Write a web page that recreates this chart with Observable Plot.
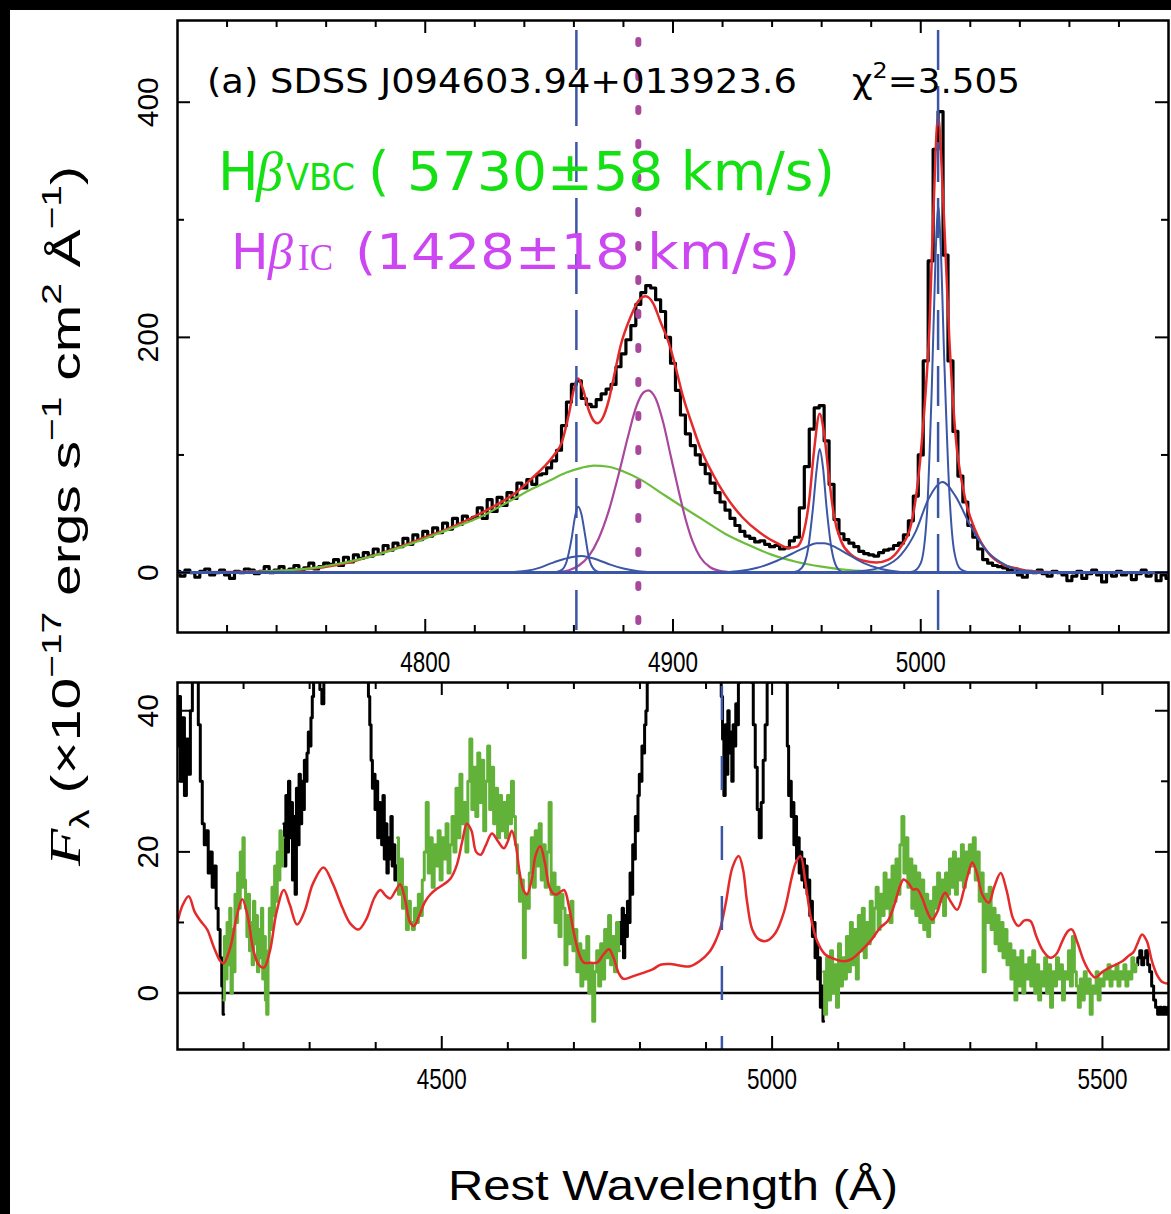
<!DOCTYPE html>
<html><head><meta charset="utf-8">
<script src="https://cdn.jsdelivr.net/npm/d3@7"></script>
<script src="https://cdn.jsdelivr.net/npm/@observablehq/plot@0.6"></script>
<style>
html,body{margin:0;padding:0;background:#000;}
body{width:1171px;height:1214px;position:relative;overflow:hidden;}
#paper{position:absolute;left:10px;top:10px;width:1161px;height:1204px;background:#fff;}
#top,#bot{position:absolute;left:0;width:1171px;}
#top{top:0}
#bot{top:680px}
#ann{position:absolute;left:0;top:0;pointer-events:none}
</style></head><body>
<div id="paper"></div><div id="top"></div><div id="bot"></div>
<svg id="ann" width="1171" height="1214" xmlns="http://www.w3.org/2000/svg">
  <text x="207" y="93" font-family="DejaVu Sans" font-size="33" textLength="590" lengthAdjust="spacingAndGlyphs">(a) SDSS J094603.94+013923.6</text>
  <text x="852" y="93" font-family="DejaVu Sans" font-size="33" textLength="168" lengthAdjust="spacingAndGlyphs">χ<tspan dy="-15" font-size="22">2</tspan><tspan dy="15">=3.505</tspan></text>
  <g fill="#14e014">
    <text x="218" y="190" font-family="DejaVu Sans" font-size="54">H</text>
    <text x="256" y="190" font-family="Liberation Serif" font-style="italic" font-size="54">β</text>
    <text x="286" y="190" font-family="DejaVu Sans" font-size="37" textLength="69" lengthAdjust="spacingAndGlyphs">VBC</text>
    <text x="368" y="190" font-family="DejaVu Sans" font-size="54" textLength="467" lengthAdjust="spacingAndGlyphs">( 5730±58 km/s)</text>
  </g>
  <g fill="#cc47f2">
    <text x="231" y="269" font-family="DejaVu Sans" font-size="50">H</text>
    <text x="268" y="269" font-family="Liberation Serif" font-style="italic" font-size="50">β</text>
    <text x="298" y="270" font-family="Liberation Serif" font-size="38" textLength="35" lengthAdjust="spacingAndGlyphs">IC</text>
    <text x="355" y="269" font-family="DejaVu Sans" font-size="50" textLength="445" lengthAdjust="spacingAndGlyphs">(1428±18 km/s)</text>
  </g>
  <text transform="translate(80,866) rotate(-90)" font-family="Liberation Sans Narrow, Liberation Sans, sans-serif" font-size="41" textLength="700" lengthAdjust="spacingAndGlyphs"><tspan font-family="Liberation Serif" font-style="italic" font-size="44">F</tspan><tspan font-size="28" dy="9">λ</tspan><tspan dy="-9"> (×10</tspan><tspan font-size="28" dy="-19">−17</tspan><tspan dy="19"> ergs s</tspan><tspan font-size="28" dy="-19">−1</tspan><tspan dy="19"> cm</tspan><tspan font-size="28" dy="-19">2</tspan><tspan dy="19"> Å</tspan><tspan font-size="28" dy="-19">−1</tspan><tspan dy="19">)</tspan></text>
  <text x="448" y="1200" font-family="Liberation Sans Narrow, Liberation Sans, sans-serif" font-size="42" textLength="450" lengthAdjust="spacingAndGlyphs">Rest Wavelength (Å)</text>
</svg>
<script>
// ---------------- TOP PANEL DATA ----------------
// observed spectrum (continuum-subtracted), 2 Å grid from 4700 to 5100
const obsTopStart = 4700, obsTopStep = 2;
const obsTopFlux = [
 1,-3,2,0,-4,1,3,-2,0,2,-2,-5,1,0,3,2,-1,1,5,0,2,5,1,3,6,2,4,8,3,5,8,
 7,11,6,13,9,15,12,17,14,20,16,23,19,25,22,29,24,32,28,35,31,38,34,42,37,46,41,48,45,
 47,55,46,62,52,64,57,68,63,76,
 72,79,75,83,84,89,95,104,125,145,
 160,163,148,143,141,147,152,156,160,175,
 186,198,210,228,238,244,242,232,222,200,
 178,155,134,118,108,100,92,84,76,68,
 60,53,46,40,35,31,29,26,27,24,
 22,23,20,21,27,30,55,90,122,140,
 142,112,75,45,33,28,25,22,18,16,
 15,14,17,19,20,23,25,32,44,65,
 100,180,265,360,392,270,180,120,82,60,
 40,30,20,11,8,6,5,4,2,3,
 -2,-4,1,
 0,2,-1,-3,1,0,-2,-7,-3,1,-5,-1,2,-2,-8,0,-3,1,-2,0,-6,-1,2,-3,0,-7,-2,-5
];
// very broad Hβ component (green)
const vbcComp = [[4700,0],[4720,0.3],[4735,1],[4745,2],[4755,4],[4765,7.5],[4775,12],[4785,18],[4795,25],[4805,33],[4815,41],[4822,47],[4830,56],[4836,63],[4843,71],[4850,78],[4857,85],[4863,89],[4868,91],[4874,90],[4880,86],[4887,79],[4895,68],[4903,57],[4912,45],[4921,33],[4931,23],[4940,15],[4950,9],[4960,5],[4971,2],[4982,0.7],[4995,0.2],[5010,0]];
// intermediate Hβ component (magenta)
const icComp = [[4848,0],[4854,0.5],[4858,2],[4862,6],[4866,14],[4870,29],[4874,52],[4878,83],[4882,117],[4885,140],[4888,153],[4890,155],[4893,148],[4896,128],[4899,100],[4902,72],[4905,46],[4908,26],[4911,13],[4915,4.5],[4920,1],[4926,0]];
// narrow / wing components (blue)
const hbNarrow = [[4850,0],[4853,0.5],[4855,2],[4857,9],[4859,28],[4860.5,48],[4861.7,56],[4863,50],[4864.5,32],[4866,13],[4868,3],[4870,0.5],[4873,0]];
const hbWing = [[4830,0],[4836,0.5],[4841,1.5],[4846,4],[4851,8],[4856,11.5],[4860,13.5],[4863,14],[4866,13],[4870,10.5],[4875,6.5],[4880,3.5],[4886,1.2],[4892,0.3],[4898,0]];
const o3aNarrow = [[4945,0],[4949,0.5],[4952,4],[4954.5,20],[4956.5,55],[4958,88],[4959.2,105],[4960.5,90],[4962,55],[4964,20],[4966,5],[4968.5,0.5],[4972,0]];
const o3aWing = [[4918,0],[4926,1],[4934,4],[4942,10],[4948,16],[4953,21],[4958,25],[4961,25],[4966,21],[4971,15],[4977,8],[4984,3],[4992,0.5],[5000,0]];
const o3bNarrow = [[4993,0],[4997,1],[5000,8],[5002.5,50],[5004.5,160],[5006,270],[5007,312],[5008,280],[5009.5,180],[5011.5,70],[5013.5,18],[5016,3],[5020,0]];
const o3bWing = [[4965,0],[4975,1],[4985,5],[4992,15],[4998,35],[5003,62],[5008.8,77],[5014,65],[5020,40],[5026,20],[5032,9],[5038,3],[5045,0.8],[5055,0]];
// total fit (red)
const totalFit = [[4700,0.3],[4720,0.5],[4740,1.2],[4750,2.6],[4760,5],[4770,9],[4780,15],[4790,22],[4800,30],[4810,38],[4822,50],[4830,59],[4836,67],[4843,80],[4848,90],[4852,100],[4855,110],[4858,135],[4860,156],[4861.7,165],[4863.5,157],[4866,138],[4868,129],[4869.5,127],[4871.5,131],[4874,146],[4876,165],[4879,194],[4883,218],[4886,231],[4889,235],[4892,229],[4895,213],[4898.5,194],[4901,175],[4904,150],[4908,124],[4911,106],[4916,84],[4921,66],[4928,47],[4935,34],[4942,25],[4947,21],[4950,22],[4952.5,32],[4955,62],[4957,105],[4959.2,135],[4961,118],[4963,80],[4965,48],[4968,26],[4972,15],[4977,10],[4982,8.5],[4987,11],[4992,22],[4996,40],[4999,80],[5001.5,140],[5003.5,209],[5005,300],[5007,388],[5009,320],[5011.5,200],[5014,118],[5017.5,67],[5022,36],[5027.5,16],[5033,7],[5039,3.4],[5045,1],[5055,0.2],[5100,0]];
const zeroLevel = [0];
const narrowLineWaves = [4861, 5007];
const icLineWave = [4886];
const topMajorX = [4800, 4900, 5000];
const topMinorX = [4720,4740,4760,4780,4820,4840,4860,4880,4920,4940,4960,4980,5020,5040,5060,5080];
const topMajorY = [0, 200, 400];
const topMinorY = [100, 300];

// ---------------- BOTTOM PANEL DATA ----------------
// observed spectrum pieces outside the Fe II windows (null = gap)
const obsBot = [
 [4100,35],[4103,42],[4106,30],[4109,39],[4112,28],[4115,36],[4118,31],[4121,40],[4124,45],[4126,60],[4128,60],[4130,50],[4133,38],[4136,30],[4139,24],[4142,21],[4145,23],[4148,17],[4151,20],[4154,15],[4157,18],[4160,12],[4163,9],[4166,5],[4168,1],[4170,-3],[4171,null],
 [4261,24],[4263,18],[4265,28],[4267,20],[4269,30],[4271,22],[4273,27],[4275,16],[4277,25],[4279,14],[4281,29],[4283,21],[4285,31],[4287,24],[4289,30],[4291,26],[4293,33],[4295,30],[4297,34],[4299,37],[4301,35],[4303,39],[4305,42],[4307,45],[4309,50],[4311,60],[4314,48],[4317,43],[4320,41],[4323,46],[4326,60],[4340,90],[4375,90],[4386,60],[4388,48],[4390,42],[4392,38],[4394,33],[4396,29],[4398,31],[4400,26],[4402,30],[4404,22],[4406,27],[4408,25],[4410,21],[4412,28],[4414,19],[4416,24],[4418,17],[4420,22],[4422,19],[4424,25],[4426,18],[4428,21],[4430,16],[4433,18],[4434,null],
 [4770,10],[4772,7],[4774,12],[4776,5],[4778,11],[4780,8],[4782,13],[4784,10],[4786,17],[4788,14],[4790,21],[4792,19],[4794,25],[4796,23],[4798,28],[4800,31],[4802,30],[4804,35],[4806,34],[4808,38],[4810,40],[4812,44],[4814,60],[4840,100],[4910,100],[4922,60],[4924,42],[4926,36],[4928,28],[4930,38],[4932,31],[4934,40],[4936,34],[4938,37],[4940,30],[4942,38],[4944,35],[4946,41],[4948,38],[4950,44],[4952,60],[4960,100],[4968,60],[4970,44],[4973,38],[4976,32],[4979,26],[4982,22],[4985,27],[4988,33],[4991,38],[4994,44],[4997,60],[5010,100],[5020,60],[5022,44],[5024,35],[5026,28],[5028,30],[5030,25],[5032,27],[5034,21],[5036,25],[5038,19],[5040,22],[5042,17],[5044,20],[5046,16],[5048,19],[5050,15],[5052,18],[5054,14],[5056,16],[5058,11],[5060,13],[5062,8],[5064,10],[5066,5],[5068,7],[5070,2],[5072,5],[5074,-2],[5076,1],[5078,-4],[5079,null],
 [5552,4],[5555,5],[5558,6],[5561,4],[5564,5],[5567,6],[5570,4],[5573,3],[5576,1],[5579,-1],[5582,-2],[5585,-3],[5588,-2],[5591,-3],[5594,-2],[5597,-3],[5600,-2]
];
// Fe II windows (green): start, step, fluxes
const win1Start = 4170, win1Step = 2;
const win1Flux = [-1,8,2,10,4,12,0,9,3,14,10,17,12,20,15,22,16,12,8,14,6,10,4,13,7,11,3,9,5,12,2,8,-1,-3,6,12,9,15,11,18,13,20,16,23,18,22];
const win2Start = 4433, win2Step = 3;
const win2Flux = [22,14,19,12,15,9,13,10,9,12,10,14,11,16,20,27,17,22,15,21,18,23,16,22,19,24,17,21,25,20,29,22,31,24,27,20,30,36,26,32,25,34,27,33,23,30,35,26,32,24,29,22,28,23,27,22,28,24,30,25,21,17,13,16,5,14,12,17,22,15,23,18,24,16,21,15,20,27,14,17,10,15,8,14,12,4,11,7,13,6,9,3,7,1,6,2,8,0,4,-4,3,6,1,7,2,9,5,11,4,8,3,10,6];
const win3Start = 5078, win3Step = 3;
const win3Flux = [3,-3,5,-1,6,0,4,-2,7,1,5,2,8,3,10,4,9,2,11,6,12,5,10,7,13,8,12,15,9,14,11,17,12,16,10,18,13,19,14,21,25,17,22,15,19,12,18,11,17,10,16,9,14,8,13,10,15,12,17,13,16,11,17,14,19,15,20,14,19,16,21,15,20,17,21,18,22,16,20,13,17,3,14,10,15,9,12,7,11,6,10,5,9,4,7,2,6,-1,5,1,6,0,4,2,5,1,6,0,4,-1,3,1,5,0,4,-2,3,1,5,2,4,-1,3,2,6,1,8,3,1,-2,2,-1,3,0,2,-3,1,0,3,-1,2,1,3,2,4,1,3,2,4,1,3,2,4,1,3,2,5,3,4];
// Fe II template (red)
const feTemplate = [[4100,10],[4108,12.5],[4117,13.7],[4126,11.5],[4135,10.2],[4145,9],[4155,6.5],[4165,4.5],[4170,4.2],[4180,6.5],[4190,11],[4198,13.3],[4206,11],[4215,6],[4223,4],[4231,3.6],[4240,6],[4250,11.5],[4261,14.6],[4270,12.5],[4281,9.7],[4292,11.5],[4305,15.5],[4321,17.8],[4335,15.5],[4350,12],[4362,9.8],[4374,9],[4386,10.5],[4398,13.5],[4407,14.6],[4415,13.8],[4422,13.4],[4430,14.5],[4437,15.4],[4445,13],[4452,10],[4458,9.5],[4466,11],[4475,13],[4483,14],[4493,14.8],[4503,15.4],[4513,16.2],[4523,18.2],[4531,21.5],[4538,24],[4545,23],[4552,20],[4559,19.6],[4566,20.8],[4576,22.6],[4585,21.5],[4594,20.5],[4600,21.5],[4606,23],[4612,21],[4618,17],[4624,14.5],[4629,14],[4636,16],[4642,19.5],[4649,20.8],[4656,18.5],[4663,15],[4670,14],[4675,14],[4685,14.6],[4693,12],[4700,8.5],[4708,5.5],[4715,4.3],[4725,4.3],[4735,4.3],[4745,5.5],[4753,6.2],[4760,5],[4768,2.8],[4775,2],[4790,2.4],[4806,2.9],[4820,3.4],[4831,4],[4846,4.1],[4860,3.9],[4876,3.8],[4890,4.5],[4905,5.8],[4915,7.5],[4922,9.3],[4930,12.8],[4940,17.8],[4949.6,19.4],[4956,17.5],[4962,13],[4970,9],[4980,7.6],[4992,7.4],[5005,8.5],[5018,11.5],[5030,16.5],[5036,18.5],[5043,19.4],[5050,16],[5058,11],[5068,7.4],[5080,5.5],[5095,4.8],[5108.5,4.5],[5120,4.8],[5135,6],[5150,7.5],[5164,9.3],[5175,10.2],[5185,12.5],[5193,15],[5199,16.1],[5207,15.5],[5213,14.7],[5219.5,14.7],[5227,13.5],[5235,11.5],[5242,10.4],[5250,11.5],[5257,13.5],[5262,14.2],[5270,13],[5280,11.8],[5290,14.5],[5297,17],[5303,18.5],[5310,17],[5318,14],[5328,12.8],[5336,15],[5346,17],[5355,14.5],[5365,10.5],[5373,9.5],[5382,10.3],[5391,10.2],[5400,8],[5410,6],[5421,5],[5430,5.5],[5440,7.5],[5448,8.8],[5454,9],[5462,7.2],[5472,4.5],[5482,2.8],[5489,2.2],[5500,3],[5515,3.8],[5530,4.5],[5540,5.3],[5547,5.8],[5553,7],[5560,8.3],[5567,7.4],[5575,4.5],[5583,2.5],[5590,1.6],[5600,1.3]];
const feLineWave = [4924];
const botMajorX = [4500, 5000, 5500];
const botMinorX = [4200,4300,4400,4600,4700,4800,4900,5100,5200,5300,5400];
const botMajorY = [0, 20, 40];
const botMinorY = [10, 30];

// ---------------- BUILD ----------------
const grid = (start, step, flux) => flux.map((f, i) => [start + i * step, f]);
const obsTop = grid(obsTopStart, obsTopStep, obsTopFlux);
const wins = [grid(win1Start, win1Step, win1Flux), grid(win2Start, win2Step, win2Flux), grid(win3Start, win3Step, win3Flux)];

const BLUE = "#3c56a6", RED = "#e42a2a", GREEN = "#6cbd3c", PURPLE = "#a8479c", FEGREEN = "#62b23a";
const W = 1171;
const frameTicks = (majX, minX, majY, minY, fw, fh) => {
  const s = {stroke: "#000", strokeWidth: 2};
  return [
    Plot.ruleX(majX, {...s, insetTop: fh - 13}), Plot.ruleX(minX, {...s, insetTop: fh - 7}),
    Plot.ruleX(majX, {...s, insetBottom: fh - 13}), Plot.ruleX(minX, {...s, insetBottom: fh - 7}),
    Plot.ruleY(majY, {...s, insetRight: fw - 13}), Plot.ruleY(minY, {...s, insetRight: fw - 7}),
    Plot.ruleY(majY, {...s, insetLeft: fw - 13}), Plot.ruleY(minY, {...s, insetLeft: fw - 7})
  ];
};
const axisStyle = {background: "transparent", fontFamily: "'Liberation Sans Narrow', 'Liberation Sans', sans-serif", fontSize: "30px", color: "#000", overflow: "visible"};
const pxy = {x: d => d[0], y: d => d[1]};

const topPlot = Plot.plot({
  width: W, height: 680, marginLeft: 177, marginRight: 3, marginTop: 20, marginBottom: 48,
  x: {domain: [4700, 5100]}, y: {domain: [-51, 469.5]},
  style: axisStyle,
  marks: [
    Plot.line(obsTop, {...pxy, curve: "step", stroke: "#000", strokeWidth: 3.2, clip: true}),
    Plot.line(totalFit, {...pxy, curve: "monotone-x", stroke: RED, strokeWidth: 2.5, clip: true}),
    Plot.line(vbcComp, {...pxy, curve: "monotone-x", stroke: GREEN, strokeWidth: 2.2, clip: true}),
    Plot.line(icComp, {...pxy, curve: "monotone-x", stroke: PURPLE, strokeWidth: 2.2, clip: true}),
    ...[hbNarrow, hbWing, o3aNarrow, o3aWing, o3bNarrow, o3bWing].map(c =>
      Plot.line(c, {...pxy, curve: "monotone-x", stroke: BLUE, strokeWidth: 2, clip: true})),
    Plot.ruleY(zeroLevel, {stroke: BLUE, strokeWidth: 3}),
    Plot.ruleX(narrowLineWaves, {stroke: BLUE, strokeWidth: 2.5, strokeDasharray: "40,16", strokeDashoffset: -10}),
    Plot.ruleX(icLineWave, {stroke: PURPLE, strokeWidth: 6, strokeDasharray: "4,30", strokeLinecap: "round", strokeDashoffset: -20}),
    ...frameTicks(topMajorX, topMinorX, topMajorY, topMinorY, 991, 612),
    Plot.frame({stroke: "#000", strokeWidth: 2.5}),
    Plot.axisX({ticks: topMajorX, tickSize: 0, tickPadding: 18, tickFormat: d => String(d), label: null}),
    Plot.axisY({ticks: topMajorY, tickSize: 0, tickPadding: 20, tickRotate: -90, tickFormat: d => String(d), label: null})
  ]
});
document.getElementById("top").append(topPlot);

const botPlot = Plot.plot({
  width: W, height: 534, marginLeft: 177, marginRight: 3, marginTop: 2, marginBottom: 165,
  x: {domain: [4100, 5600]}, y: {domain: [-8, 44]},
  style: axisStyle,
  marks: [
    Plot.ruleY(zeroLevel, {stroke: "#000", strokeWidth: 2.5}),
    Plot.line(obsBot, {...pxy, curve: "step", stroke: "#000", strokeWidth: 3, clip: true}),
    ...wins.map(w => Plot.line(w, {...pxy, curve: "step", stroke: FEGREEN, strokeWidth: 3, clip: true})),
    Plot.line(feTemplate, {...pxy, curve: "catmull-rom", stroke: RED, strokeWidth: 2.5, clip: true}),
    Plot.ruleX(feLineWave, {stroke: BLUE, strokeWidth: 2.5, strokeDasharray: "34,36", strokeDashoffset: -4}),
    ...frameTicks(botMajorX, botMinorX, botMajorY, botMinorY, 991, 367),
    Plot.frame({stroke: "#000", strokeWidth: 2.5}),
    Plot.axisX({ticks: botMajorX, tickSize: 0, tickPadding: 18, tickFormat: d => String(d), label: null}),
    Plot.axisY({ticks: botMajorY, tickSize: 0, tickPadding: 20, tickRotate: -90, tickFormat: d => String(d), label: null})
  ]
});
document.getElementById("bot").append(botPlot);

// narrower x tick labels, like the original plotting font
for (const svg of [topPlot, botPlot]) {
  d3.select(svg).selectAll('g[aria-label="x-axis tick label"] text')
    .attr("textLength", 50).attr("lengthAdjust", "spacingAndGlyphs");
}
</script>
</body></html>
